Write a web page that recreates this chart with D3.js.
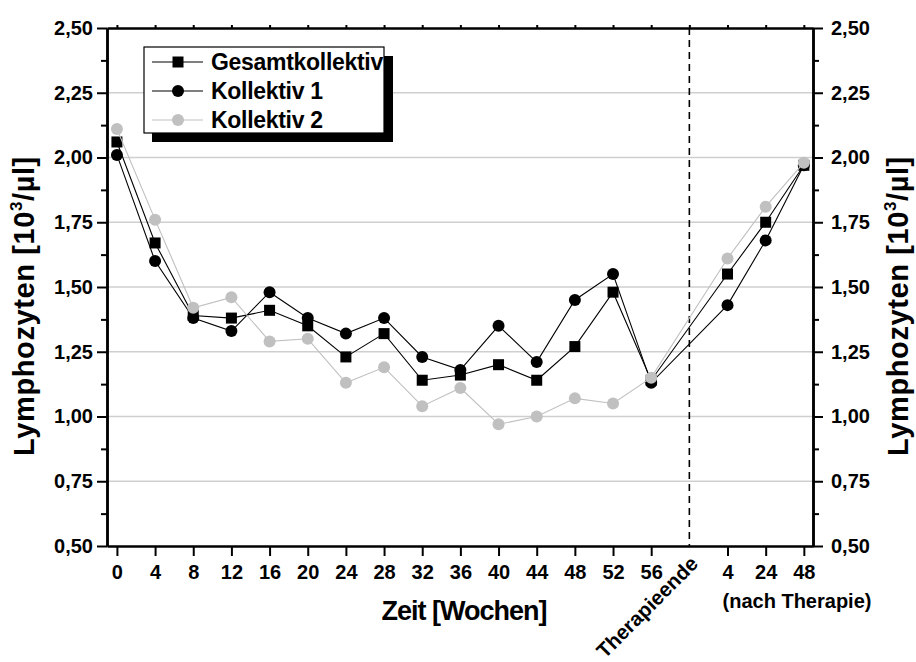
<!DOCTYPE html>
<html>
<head>
<meta charset="utf-8">
<script src="https://cdn.jsdelivr.net/npm/d3@7"></script>
<style>
  body { margin: 0; background: #fff; }
  svg text { font-family: "Liberation Sans", Arial, sans-serif; font-weight: bold; fill: #000; }
</style>
</head>
<body>
<svg id="chart" width="916" height="662"></svg>
<script>
// Zeitpunkte (Wochen unter Therapie, Therapieende, Wochen nach Therapie)
const timeLabels = ["0","4","8","12","16","20","24","28","32","36","40","44","48","52","56","Therapieende","4","24","48"];
const therapyEndIndex = 15;

// Lymphozyten [10^3/µl]
const gesamtkollektiv = [2.06,1.67,1.39,1.38,1.41,1.35,1.23,1.32,1.14,1.16,1.20,1.14,1.27,1.48,1.14,null,1.55,1.75,1.97];
const kollektiv1      = [2.01,1.60,1.38,1.33,1.48,1.38,1.32,1.38,1.23,1.18,1.35,1.21,1.45,1.55,1.13,null,1.43,1.68,1.97];
const kollektiv2      = [2.11,1.76,1.42,1.46,1.29,1.30,1.13,1.19,1.04,1.11,0.97,1.00,1.07,1.05,1.15,null,1.61,1.81,1.98];

const seriesNames = ["Gesamtkollektiv", "Kollektiv 1", "Kollektiv 2"];
const yTicks = [0.50,0.75,1.00,1.25,1.50,1.75,2.00,2.25,2.50];
const yMinorTicks = [0.625,0.875,1.125,1.375,1.625,1.875,2.125,2.375];
const gridValues = [0.75,1.00,1.25,1.50,1.75,2.00,2.25];

const series = [
  { name: seriesNames[0], values: gesamtkollektiv, color: "#000", shape: "square" },
  { name: seriesNames[1], values: kollektiv1,      color: "#000", shape: "circle" },
  { name: seriesNames[2], values: kollektiv2,      color: "#c0c0c0", shape: "circle" }
];

const svg = d3.select("#chart");
const plot = { left: 107, right: 813, top: 28, bottom: 546 };

const x = d3.scaleLinear().domain([-0.26, 18.24]).range([plot.left, plot.right]);
const y = d3.scaleLinear().domain([0.5, 2.5]).range([plot.bottom, plot.top]);

const deLocale = d3.formatLocale({ decimal: ",", thousands: ".", grouping: [3], currency: ["", " €"] });
const fmt = deLocale.format(".2f");

// horizontal grid
svg.append("g").selectAll("line").data(gridValues).join("line")
  .attr("x1", plot.left).attr("x2", plot.right)
  .attr("y1", d => y(d)).attr("y2", d => y(d))
  .attr("stroke", "#cfcfcf").attr("stroke-width", 1.5);

// end of therapy marker
svg.append("line")
  .attr("x1", x(therapyEndIndex)).attr("x2", x(therapyEndIndex))
  .attr("y1", plot.top).attr("y2", plot.bottom)
  .attr("stroke", "#000").attr("stroke-width", 1.6)
  .attr("stroke-dasharray", "7,5");

// series lines and markers
const line = d3.line().x(d => x(d.i)).y(d => y(d.v));
series.forEach(s => {
  const pts = s.values.map((v, i) => ({ i, v })).filter(d => d.v !== null);
  const g = svg.append("g");
  g.append("path").datum(pts)
    .attr("d", line).attr("fill", "none")
    .attr("stroke", s.color).attr("stroke-width", 1.1);
  if (s.shape === "square") {
    g.selectAll("rect").data(pts).join("rect")
      .attr("x", d => x(d.i) - 5.5).attr("y", d => y(d.v) - 5.5)
      .attr("width", 11).attr("height", 11).attr("fill", s.color);
  } else {
    g.selectAll("circle").data(pts).join("circle")
      .attr("cx", d => x(d.i)).attr("cy", d => y(d.v))
      .attr("r", 6).attr("fill", s.color);
  }
});

// axes
function styleAxis(g, width) {
  g.select(".domain").attr("stroke", "#000").attr("stroke-width", width);
  g.selectAll(".tick line").attr("stroke", "#000").attr("stroke-width", 2);
  g.selectAll(".tick text").attr("font-size", 20).attr("fill", "#000")
    .attr("font-family", "Liberation Sans, Arial, sans-serif").attr("font-weight", "bold");
}

const xTickValues = d3.range(timeLabels.length).filter(i => i !== therapyEndIndex);

svg.append("g").attr("transform", `translate(0,${plot.bottom})`)
  .call(d3.axisBottom(x).tickValues(xTickValues).tickFormat(i => timeLabels[i])
    .tickSize(10).tickSizeOuter(0).tickPadding(9))
  .call(g => styleAxis(g, 2.5));

svg.append("g").attr("transform", `translate(0,${plot.top})`)
  .call(d3.axisTop(x).tickValues(d3.range(timeLabels.length)).tickFormat("")
    .tickSize(3).tickSizeOuter(0))
  .call(g => styleAxis(g, 2.5));

svg.append("g").attr("transform", `translate(${plot.left},0)`)
  .call(d3.axisLeft(y).tickValues(yMinorTicks).tickFormat("").tickSize(6).tickSizeOuter(0))
  .call(g => styleAxis(g, 2.5));
svg.append("g").attr("transform", `translate(${plot.left},0)`)
  .call(d3.axisLeft(y).tickValues(yTicks).tickFormat(fmt).tickSize(10).tickSizeOuter(0).tickPadding(4))
  .call(g => styleAxis(g, 2.5));

svg.append("g").attr("transform", `translate(${plot.right},0)`)
  .call(d3.axisRight(y).tickValues(yMinorTicks).tickFormat("").tickSize(6).tickSizeOuter(0))
  .call(g => styleAxis(g, 2.5));
svg.append("g").attr("transform", `translate(${plot.right},0)`)
  .call(d3.axisRight(y).tickValues(yTicks).tickFormat(fmt).tickSize(10).tickSizeOuter(0).tickPadding(8))
  .call(g => styleAxis(g, 2.5));

// special x labels
svg.append("text")
  .attr("transform", `translate(${x(therapyEndIndex) + 10},565) rotate(-45)`)
  .attr("text-anchor", "end").attr("font-size", 20.5)
  .text(timeLabels[therapyEndIndex]);

svg.append("text")
  .attr("x", 797).attr("y", 608)
  .attr("text-anchor", "middle").attr("font-size", 20)
  .text("(nach Therapie)");

// axis titles
svg.append("text")
  .attr("x", 464).attr("y", 620)
  .attr("text-anchor", "middle").attr("font-size", 27).attr("letter-spacing", -1)
  .text("Zeit [Wochen]");

function yTitle(tx) {
  const t = svg.append("text")
    .attr("transform", `translate(${tx},306) rotate(-90)`)
    .attr("text-anchor", "middle").attr("font-size", 29).attr("letter-spacing", 0.6);
  t.append("tspan").text("Lymphozyten [10");
  t.append("tspan").attr("font-size", 17).attr("dy", -12).text("3");
  t.append("tspan").attr("dy", 12).text("/µl]");
}
yTitle(34);
yTitle(908);

// legend
const lg = { x: 144, y: 47, w: 240, h: 86, dx: 8, dy: 9 };
const legend = svg.append("g");
legend.append("rect")
  .attr("x", lg.x + lg.dx).attr("y", lg.y + lg.dy).attr("width", lg.w).attr("height", lg.h)
  .attr("fill", "#000");
legend.append("rect")
  .attr("x", lg.x).attr("y", lg.y).attr("width", lg.w).attr("height", lg.h)
  .attr("fill", "#fff");
series.forEach((s, k) => {
  const cy = 62 + k * 29;
  legend.append("line").attr("x1", 152).attr("x2", 203).attr("y1", cy).attr("y2", cy)
    .attr("stroke", s.color).attr("stroke-width", 1.1);
  if (s.shape === "square") {
    legend.append("rect").attr("x", 178 - 5.5).attr("y", cy - 5.5).attr("width", 11).attr("height", 11).attr("fill", s.color);
  } else {
    legend.append("circle").attr("cx", 178).attr("cy", cy).attr("r", 6).attr("fill", s.color);
  }
  legend.append("text").attr("x", 211).attr("y", cy + 7.5)
    .attr("font-size", 23).attr("letter-spacing", -0.3).text(s.name);
});
// shadow strip over the right edge
legend.append("rect")
  .attr("x", lg.x + lg.w).attr("y", lg.y + lg.dy).attr("width", lg.dx + 1).attr("height", lg.h)
  .attr("fill", "#000");
legend.append("rect")
  .attr("x", lg.x).attr("y", lg.y).attr("width", lg.w).attr("height", lg.h)
  .attr("fill", "none").attr("stroke", "#000").attr("stroke-width", 1.2);
</script>
</body>
</html>
